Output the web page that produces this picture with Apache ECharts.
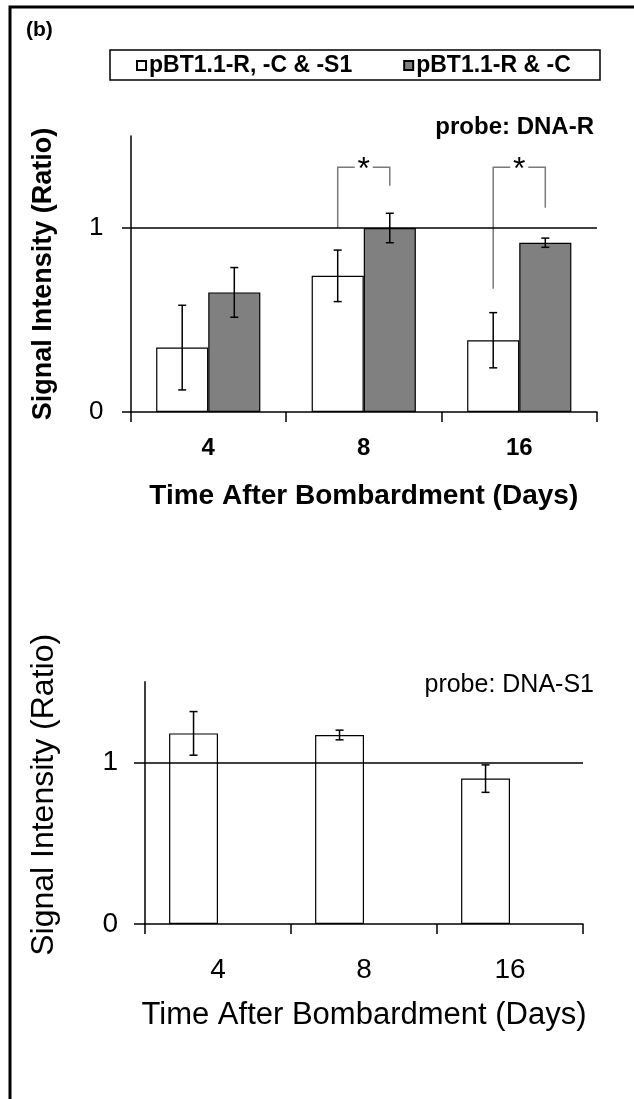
<!DOCTYPE html>
<html>
<head>
<meta charset="utf-8">
<script src="https://cdn.jsdelivr.net/npm/echarts@6/dist/echarts.min.js"></script>
<style>
  html, body { margin: 0; padding: 0; background: #fff; }
  #chart { width: 634px; height: 1099px; }
</style>
</head>
<body>
<div id="chart"></div>
<script>
// data
const days = ['4', '8', '16']
const seriesNames = ['pBT1.1-R, -C & -S1', 'pBT1.1-R & -C']

// probe: DNA-R
const dnaRAll = [0.35, 0.74, 0.39]
const dnaRAllErr = [0.23, 0.14, 0.15]
const dnaRNoS1 = [0.65, 1.0, 0.92]
const dnaRNoS1Err = [0.135, 0.08, 0.025]

// significance brackets: [category, left leg bottom, top, right leg bottom]
const sigBrackets = [
  [1, 1.0, 1.33, 1.23],
  [2, 0.67, 1.33, 1.11],
]

// probe: DNA-S1
const dnaS1All = [1.18, 1.17, 0.9]
const dnaS1AllErr = [0.135, 0.03, 0.085]

const yTicks = [0, 1]

const FONT = 'Liberation Sans, Arial, sans-serif'
const BAR_FRAC = 0.335

const chart = echarts.init(document.getElementById('chart'))

const errData = (vals, errs) => vals.map((v, i) => [i, v - errs[i], v + errs[i]])

function errorBar(side) {
  return (params, api) => {
    const band = api.size([1, 0])[0]
    const off = (side * band * BAR_FRAC) / 2
    const hi = api.coord([api.value(0), api.value(2)])
    const lo = api.coord([api.value(0), api.value(1)])
    const x = hi[0] + off
    const cap = 4
    const st = { stroke: '#000', lineWidth: 1.5 }
    return {
      type: 'group',
      children: [
        { type: 'line', shape: { x1: x, y1: hi[1], x2: x, y2: lo[1] }, style: st },
        { type: 'line', shape: { x1: x - cap, y1: hi[1], x2: x + cap, y2: hi[1] }, style: st },
        { type: 'line', shape: { x1: x - cap, y1: lo[1], x2: x + cap, y2: lo[1] }, style: st },
      ],
    }
  }
}

function bracket(params, api) {
  const band = api.size([1, 0])[0]
  const off = (band * BAR_FRAC) / 2
  const c = api.value(0)
  const pl = api.coord([c, api.value(1)])
  const pt = api.coord([c, api.value(2)])
  const pr = api.coord([c, api.value(3)])
  const xl = pt[0] - off
  const xr = pt[0] + off
  const xm = pt[0]
  const gap = 9
  const st = { stroke: '#7a7a7a', lineWidth: 1.5, fill: null }
  return {
    type: 'group',
    children: [
      { type: 'polyline', shape: { points: [[xl, pl[1]], [xl, pt[1]], [xm - gap, pt[1]]] }, style: st },
      { type: 'polyline', shape: { points: [[xm + gap, pt[1]], [xr, pt[1]], [xr, pr[1]]] }, style: st },
      {
        type: 'text',
        x: xm,
        y: pt[1] + 3,
        style: { text: '*', fontSize: 32, fontFamily: FONT, fill: '#000', align: 'center', verticalAlign: 'middle' },
      },
    ],
  }
}

const axisLine = { show: true, lineStyle: { color: '#000', width: 1.5 } }

function xAxisFor(gridIndex, bold, labelSize, labelMargin, nameSize, nameGap) {
  return {
    type: 'category',
    gridIndex,
    data: days,
    axisLine,
    axisTick: { show: true, inside: false, length: 10, alignWithLabel: false, interval: 0, lineStyle: { color: '#000', width: 1.5 } },
    axisLabel: { color: '#000', fontSize: labelSize, fontWeight: bold ? 'bold' : 'normal', fontFamily: FONT, margin: labelMargin },
    splitLine: { show: false },
    name: 'Time After Bombardment (Days)',
    nameLocation: 'middle',
    nameGap,
    nameTextStyle: { color: '#000', fontSize: nameSize, fontWeight: bold ? 'bold' : 'normal', fontFamily: FONT },
  }
}

function yAxisFor(gridIndex, bold, labelSize, tickLen, nameSize, nameGap, namePad) {
  return {
    type: 'value',
    gridIndex,
    min: 0,
    max: 1.5,
    interval: 0.5,
    axisLine,
    axisTick: { show: true, inside: false, length: tickLen, customValues: yTicks, lineStyle: { color: '#000', width: 1.5 } },
    axisLabel: {
      color: '#000',
      fontSize: labelSize,
      fontFamily: FONT,
      margin: 27,
      customValues: yTicks,
      formatter: v => (yTicks.includes(v) ? String(v) : ''),
    },
    splitLine: { show: false },
    name: 'Signal Intensity (Ratio)',
    nameLocation: 'middle',
    nameGap,
    nameRotate: 90,
    nameTextStyle: { color: '#000', fontSize: nameSize, fontWeight: bold ? 'bold' : 'normal', fontFamily: FONT, padding: namePad },
  }
}

const oneLine = {
  silent: true,
  symbol: 'none',
  label: { show: false },
  lineStyle: { color: '#000', width: 1.5, type: 'solid' },
  data: [{ yAxis: 1 }],
}

const barCommon = {
  type: 'bar',
  barWidth: (BAR_FRAC * 100).toFixed(1) + '%',
  barGap: '0%',
  silent: true,
}

chart.setOption({
  animation: false,
  backgroundColor: '#fff',
  textStyle: { fontFamily: FONT },
  grid: [
    { left: 130.5, right: 37, top: 136, height: 276, outerBoundsMode: 'none', containLabel: false },
    { left: 145, right: 51, top: 681.7, height: 242.3, outerBoundsMode: 'none', containLabel: false },
  ],
  legend: {
    data: seriesNames,
    left: 136,
    top: 54,
    padding: 0,
    icon: 'rect',
    itemWidth: 9,
    itemHeight: 9,
    itemGap: 51,
    selectedMode: false,
    textStyle: { color: '#000', fontSize: 23, fontWeight: 'bold', fontFamily: FONT, padding: [0, 0, 0, -2] },
  },
  xAxis: [xAxisFor(0, true, 24, 24, 28, 70), xAxisFor(1, false, 28, 32, 31, 76)],
  yAxis: [yAxisFor(0, true, 26, 8.5, 27, 73, [0, 0, 0, 0]), yAxisFor(1, false, 28, 11, 32, 85, [0, 0, 0, 16])],
  graphic: [
    {
      type: 'rect',
      shape: { x: 10, y: 7, width: 800, height: 1300 },
      style: { fill: 'none', stroke: '#000', lineWidth: 3 },
      silent: true,
    },
    {
      type: 'text',
      x: 26,
      y: 30,
      style: { text: '(b)', font: 'bold 21px ' + FONT, fill: '#000', align: 'left', verticalAlign: 'middle', textAlign: 'left', textVerticalAlign: 'middle' },
    },
    {
      type: 'rect',
      shape: { x: 110, y: 50, width: 490, height: 30 },
      style: { fill: 'none', stroke: '#000', lineWidth: 1.5 },
      silent: true,
    },
    {
      type: 'text',
      x: 594,
      y: 127,
      style: { text: 'probe: DNA-R', font: 'bold 24px ' + FONT, fill: '#000', align: 'right', verticalAlign: 'middle', textAlign: 'right', textVerticalAlign: 'middle' },
    },
    {
      type: 'text',
      x: 594,
      y: 685,
      style: { text: 'probe: DNA-S1', font: '25px ' + FONT, fill: '#000', align: 'right', verticalAlign: 'middle', textAlign: 'right', textVerticalAlign: 'middle' },
    },
  ],
  series: [
    {
      ...barCommon,
      name: seriesNames[0],
      xAxisIndex: 0,
      yAxisIndex: 0,
      data: dnaRAll,
      itemStyle: { color: '#fff', borderColor: '#000', borderWidth: 1.2 },
      markLine: oneLine,
      z: 2,
    },
    {
      ...barCommon,
      name: seriesNames[1],
      xAxisIndex: 0,
      yAxisIndex: 0,
      data: dnaRNoS1,
      itemStyle: { color: '#808080', borderColor: '#000', borderWidth: 1.2 },
      z: 2,
    },
    {
      type: 'custom',
      name: 'errAll',
      xAxisIndex: 0,
      yAxisIndex: 0,
      renderItem: errorBar(-1),
      data: errData(dnaRAll, dnaRAllErr),
      z: 5,
      silent: true,
    },
    {
      type: 'custom',
      name: 'errNoS1',
      xAxisIndex: 0,
      yAxisIndex: 0,
      renderItem: errorBar(1),
      data: errData(dnaRNoS1, dnaRNoS1Err),
      z: 5,
      silent: true,
    },
    {
      type: 'custom',
      name: 'sig',
      xAxisIndex: 0,
      yAxisIndex: 0,
      renderItem: bracket,
      data: sigBrackets,
      z: 4,
      silent: true,
    },
    {
      ...barCommon,
      name: 'DNA-S1 ' + seriesNames[0],
      xAxisIndex: 1,
      yAxisIndex: 1,
      data: dnaS1All,
      itemStyle: { color: '#fff', borderColor: '#000', borderWidth: 1.2 },
      markLine: oneLine,
      z: 2,
    },
    {
      // empty slot so the S1 bars sit where they do in the figure
      ...barCommon,
      name: 'DNA-S1 ' + seriesNames[1],
      xAxisIndex: 1,
      yAxisIndex: 1,
      data: [null, null, null],
      itemStyle: { color: '#808080' },
    },
    {
      type: 'custom',
      name: 'errS1',
      xAxisIndex: 1,
      yAxisIndex: 1,
      renderItem: errorBar(-1),
      data: errData(dnaS1All, dnaS1AllErr),
      z: 5,
      silent: true,
    },
  ],
})
</script>
</body>
</html>
